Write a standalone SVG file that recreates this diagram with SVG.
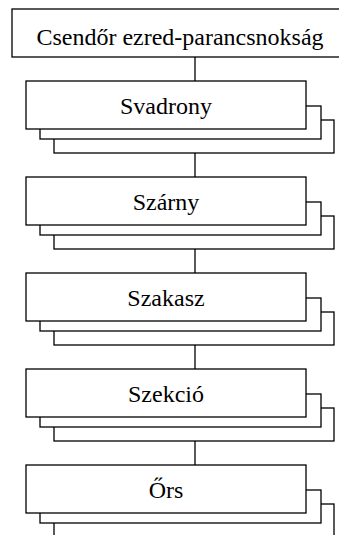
<svg xmlns="http://www.w3.org/2000/svg" width="339" height="535" viewBox="0 0 339 535">
<style>
.b{fill:#fff;stroke:#000;stroke-width:1.3}
line{stroke:#000;stroke-width:1.3}
text{font-family:"Liberation Serif","Times New Roman",serif;font-size:24px;fill:#000;text-anchor:middle}
</style>
<defs>
<g id="stack">
<rect class="b" x="54" y="39" width="280" height="33"/>
<rect class="b" x="40" y="25" width="281" height="33"/>
<rect class="b" x="26" y="0" width="280" height="48"/>
</g>
</defs>
<rect width="339" height="535" fill="#fff"/>
<g id="connectors">
<line x1="195" y1="57" x2="195" y2="81"/>
<line x1="195" y1="153" x2="195" y2="177"/>
<line x1="195" y1="249" x2="195" y2="273"/>
<line x1="195" y1="345" x2="195" y2="369"/>
<line x1="195" y1="441" x2="195" y2="465"/>
</g>
<g id="hq">
<rect class="b" x="12" y="9" width="330" height="48"/>
<text x="180" y="44.5">Csendőr ezred-parancsnokság</text>
</g>
<g id="svadrony">
<use href="#stack" y="81"/>
<text x="166" y="113.5">Svadrony</text>
</g>
<g id="szarny">
<use href="#stack" y="177"/>
<text x="166" y="209.5">Szárny</text>
</g>
<g id="szakasz">
<use href="#stack" y="273"/>
<text x="166" y="305.5">Szakasz</text>
</g>
<g id="szekcio">
<use href="#stack" y="369"/>
<text x="166" y="401.5">Szekció</text>
</g>
<g id="ors">
<use href="#stack" y="465"/>
<text x="166" y="497.5">Őrs</text>
</g>
</svg>
